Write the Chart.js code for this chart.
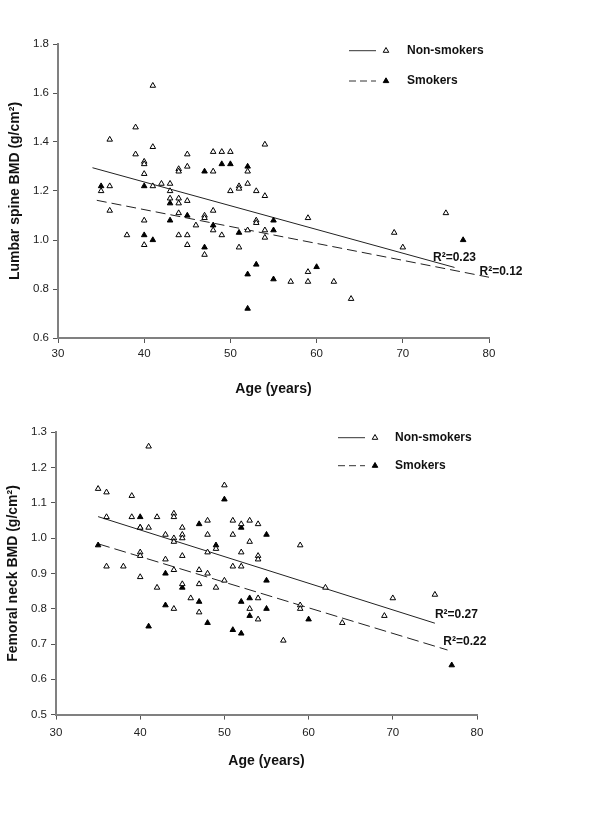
<!DOCTYPE html>
<html>
<head>
<meta charset="utf-8">
<script src="https://cdn.jsdelivr.net/npm/chart.js@4"></script>
<style>
  body { margin: 0; background: #fff; }
  canvas { position: absolute; left: 0; }
</style>
</head>
<body>
<canvas id="lumbarChart" width="600" height="405" style="top:0"></canvas>
<canvas id="neckChart" width="600" height="370" style="top:405px"></canvas>
<script>
// Lumbar spine BMD
const lumbarNonAge = [41, 39, 36, 41, 39, 40, 40, 40, 45, 48, 49, 50, 54, 44, 44, 45, 48, 52,
  36, 35, 41, 42, 43, 43, 43, 44, 44, 45, 50, 51, 51, 52, 53, 54, 36, 44, 48, 40, 47, 47,
  46, 48, 53, 53, 54, 54, 52, 49, 51, 38, 40, 44, 45, 45, 47, 59, 59, 59, 57, 75, 69, 70, 62, 64];
const lumbarNonBmd = [1.63, 1.46, 1.41, 1.38, 1.35, 1.32, 1.31, 1.27, 1.35, 1.36, 1.36, 1.36, 1.39, 1.29, 1.28, 1.30, 1.28, 1.28,
  1.22, 1.20, 1.22, 1.23, 1.23, 1.20, 1.17, 1.17, 1.15, 1.16, 1.20, 1.22, 1.21, 1.23, 1.20, 1.18, 1.12, 1.11, 1.12, 1.08, 1.10, 1.09,
  1.06, 1.04, 1.08, 1.07, 1.04, 1.01, 1.04, 1.02, 0.97, 1.02, 0.98, 1.02, 1.02, 0.98, 0.94, 1.09, 0.87, 0.83, 0.83, 1.11, 1.03, 0.97, 0.83, 0.76];
const lumbarSmkAge = [35, 40, 43, 47, 49, 50, 52, 45, 43, 48, 51, 55, 55, 40, 41, 47, 53, 52, 55, 60, 52, 77];
const lumbarSmkBmd = [1.22, 1.22, 1.15, 1.28, 1.31, 1.31, 1.30, 1.10, 1.08, 1.06, 1.03, 1.08, 1.04, 1.02, 1.00, 0.97, 0.90, 0.86, 0.84, 0.89, 0.72, 1.00];
// regression line ends (age, bmd)
const lumbarFitNonAge = [34, 76];
const lumbarFitNonBmd = [1.295, 0.888];
const lumbarFitSmkAge = [34.5, 80];
const lumbarFitSmkBmd = [1.162, 0.848];

// Femoral neck BMD, bottom panel
const neckNonAge = [41, 35, 36, 39, 50, 36, 39, 42, 44, 44, 48, 51, 52, 53, 54, 40, 41, 45, 43, 48, 51,
  44, 44, 45, 45, 53, 49, 48, 52, 40, 40, 45, 54, 54, 59, 36, 38, 43, 44, 51, 52, 47, 48, 40, 45, 47,
  49, 50, 42, 46, 44, 47, 54, 53, 54, 59, 59, 57, 62, 70, 75, 69, 64];
const neckNonBmd = [1.26, 1.14, 1.13, 1.12, 1.15, 1.06, 1.06, 1.06, 1.07, 1.06, 1.05, 1.05, 1.04, 1.05, 1.04, 1.03, 1.03, 1.03, 1.01, 1.01, 1.01,
  1.00, 0.99, 1.01, 1.00, 0.99, 0.97, 0.96, 0.96, 0.96, 0.95, 0.95, 0.95, 0.94, 0.98, 0.92, 0.92, 0.94, 0.91, 0.92, 0.92, 0.91, 0.90, 0.89, 0.87, 0.87,
  0.86, 0.88, 0.86, 0.83, 0.80, 0.79, 0.83, 0.80, 0.77, 0.81, 0.80, 0.71, 0.86, 0.83, 0.84, 0.78, 0.76];
const neckSmkAge = [35, 40, 40, 50, 47, 52, 55, 49, 43, 45, 55, 43, 47, 52, 53, 53, 55, 48, 41, 51, 52, 60, 77];
const neckSmkBmd = [0.98, 1.06, 1.03, 1.11, 1.04, 1.03, 1.01, 0.98, 0.90, 0.86, 0.88, 0.81, 0.82, 0.82, 0.83, 0.78, 0.80, 0.76, 0.75, 0.74, 0.73, 0.77, 0.64];
const neckFitNonAge = [35, 75];
const neckFitNonBmd = [1.061, 0.759];
const neckFitSmkAge = [35, 76.5];
const neckFitSmkBmd = [0.984, 0.683];

const ageTicks = [30, 40, 50, 60, 70, 80];

const FONT = 'Arial, "Liberation Sans", sans-serif';
Chart.defaults.font.family = FONT;
Chart.defaults.color = '#222';

function pts(ages, vals) {
  return ages.map((a, i) => ({ x: a, y: vals[i] }));
}

function datasets(nonAge, nonBmd, smkAge, smkBmd, fnA, fnB, fsA, fsB, dash) {
  return [
    { label: 'Non-smokers', data: pts(nonAge, nonBmd), pointStyle: 'triangle', pointRadius: 3.2,
      backgroundColor: '#fff', borderColor: '#000', borderWidth: 1, order: 1 },
    { label: 'Smokers', data: pts(smkAge, smkBmd), pointStyle: 'triangle', pointRadius: 3.2,
      backgroundColor: '#000', borderColor: '#000', borderWidth: 1, order: 1 },
    { data: pts(fnA, fnB), showLine: true, pointRadius: 0, borderColor: '#222', borderWidth: 1, order: 2 },
    { data: pts(fsA, fsB), showLine: true, pointRadius: 0, borderColor: '#222', borderWidth: 1,
      borderDash: dash, order: 2 }
  ];
}

// legend (line + marker + text) and the R² notes
function overlay(leg, notes) {
  return {
    id: 'overlay',
    afterDatasetsDraw(chart) {
      const ctx = chart.ctx;
      const sx = chart.scales.x, sy = chart.scales.y;
      ctx.save();
      ctx.font = 'bold 12px ' + FONT;
      ctx.textBaseline = 'middle';
      leg.ys.forEach((y, i) => {
        ctx.strokeStyle = '#333';
        ctx.lineWidth = 1;
        ctx.setLineDash(i === 0 ? [] : [7, 4]);
        ctx.beginPath();
        ctx.moveTo(leg.x0, y);
        ctx.lineTo(leg.x1, y);
        ctx.stroke();
        ctx.setLineDash([]);
        ctx.fillStyle = i === 0 ? '#fff' : '#000';
        ctx.strokeStyle = '#000';
        Chart.helpers.drawPoint(ctx, { pointStyle: 'triangle', radius: 3.2, rotation: 0, borderWidth: 1 }, leg.px, y);
        ctx.fillStyle = '#111';
        ctx.fillText(i === 0 ? 'Non-smokers' : 'Smokers', leg.tx, y);
      });
      notes.forEach(n => {
        ctx.fillStyle = '#111';
        ctx.fillText(n.text, sx.getPixelForValue(n.age), sy.getPixelForValue(n.bmd));
      });
      ctx.restore();
    }
  };
}

function scales(yMin, yMax, yStep, yTitle, yWidth, xHeight, xPad, yTitlePad, xTitlePad) {
  const grid = { drawOnChartArea: false, drawTicks: true, tickLength: 5, color: '#555', lineWidth: 1 };
  const border = { display: true, color: '#808080', width: 2 };
  return {
    x: {
      type: 'linear', min: 30, max: 80,
      afterBuildTicks: s => { s.ticks = ageTicks.map(v => ({ value: v })); },
      afterFit: s => { s.height = xHeight; },
      grid, border,
      ticks: { padding: xPad, font: { size: 11.5 }, color: '#222', autoSkip: false, maxRotation: 0 },
      title: { display: true, text: 'Age (years)', font: { size: 14, weight: 'bold' }, color: '#111',
        padding: { top: 0, bottom: xTitlePad } }
    },
    y: {
      min: yMin, max: yMax,
      afterFit: s => { s.width = yWidth; },
      grid, border,
      ticks: { stepSize: yStep, padding: 4, font: { size: 11.5 }, color: '#222',
        callback: v => v.toFixed(1) },
      title: { display: true, text: yTitle, font: { size: 14, weight: 'bold' }, color: '#111',
        padding: { top: yTitlePad, bottom: 0 } }
    }
  };
}

new Chart(document.getElementById('lumbarChart'), {
  type: 'scatter',
  data: { datasets: datasets(lumbarNonAge, lumbarNonBmd, lumbarSmkAge, lumbarSmkBmd,
    lumbarFitNonAge, lumbarFitNonBmd, lumbarFitSmkAge, lumbarFitSmkBmd, [10, 5]) },
  options: {
    responsive: false, animation: false, events: [],
    layout: { padding: { top: 44, right: 111, bottom: 0, left: 0 } },
    plugins: { legend: { display: false }, tooltip: { enabled: false } },
    scales: scales(0.6, 1.8, 0.2, 'Lumbar spine BMD (g/cm²)', 58, 67, 4, 6.5, 7.5)
  },
  plugins: [overlay({ x0: 349, x1: 376, px: 386, tx: 407, ys: [50.7, 81] }, [
    { text: 'R²=0.23', age: 73.5, bmd: 0.928 },
    { text: 'R²=0.12', age: 78.9, bmd: 0.871 }
  ])]
});

new Chart(document.getElementById('neckChart'), {
  type: 'scatter',
  data: { datasets: datasets(neckNonAge, neckNonBmd, neckSmkAge, neckSmkBmd,
    neckFitNonAge, neckFitNonBmd, neckFitSmkAge, neckFitSmkBmd, [12, 5]) },
  options: {
    responsive: false, animation: false, events: [],
    layout: { padding: { top: 27.3, right: 123, bottom: 0, left: 0 } },
    plugins: { legend: { display: false }, tooltip: { enabled: false } },
    scales: scales(0.5, 1.3, 0.1, 'Femoral neck BMD (g/cm²)', 56, 60.4, 6, 5, 5.8)
  },
  plugins: [overlay({ x0: 338, x1: 365, px: 375, tx: 395, ys: [32.7, 60.7] }, [
    { text: 'R²=0.27', age: 75.0, bmd: 0.782 },
    { text: 'R²=0.22', age: 76.0, bmd: 0.706 }
  ])]
});
</script>
</body>
</html>
